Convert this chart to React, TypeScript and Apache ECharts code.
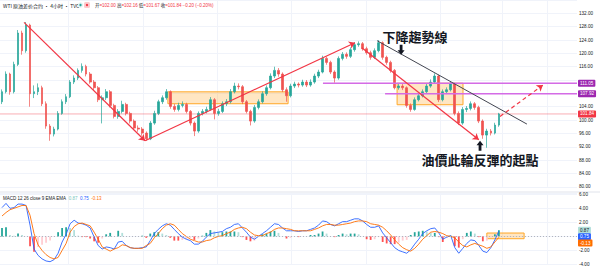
import React, { useEffect, useRef } from "react";
import * as echarts from "echarts";

// ---------- data ----------
const SLOT_COUNT = 144; // candle slots incl. empty right margin

// [open, close, low, high]
const candles: number[][] = [
  [105.5, 108.5, 104.8, 109.2], [108.5, 113.8, 108.0, 114.6], [113.8, 108.5, 107.6, 114.2], [108.5, 116.7, 108.0, 117.5],
  [116.7, 126.1, 116.2, 127.0], [126.1, 120.8, 119.6, 126.8], [120.8, 128.5, 120.2, 129.4], [128.5, 107.9, 104.0, 128.9],
  [107.9, 108.5, 106.6, 110.4], [108.5, 109.7, 107.5, 111.0], [109.7, 104.9, 104.2, 110.3], [104.9, 98.2, 97.4, 105.6],
  [98.2, 95.8, 93.8, 98.8], [95.8, 97.3, 95.1, 98.0], [97.3, 102.0, 96.9, 102.7], [102.0, 105.5, 101.6, 106.2],
  [105.5, 107.0, 104.8, 107.8], [107.0, 111.4, 106.6, 112.0], [111.4, 112.6, 110.8, 113.4], [112.6, 114.9, 112.0, 115.5],
  [114.9, 116.1, 114.2, 117.0], [116.1, 113.8, 113.1, 116.6], [113.8, 111.4, 110.9, 114.4], [111.4, 109.7, 109.0, 112.0],
  [109.7, 106.1, 105.4, 110.2], [106.1, 106.7, 99.0, 107.4], [106.7, 108.5, 106.0, 109.3], [108.5, 104.4, 103.8, 109.0],
  [104.4, 101.1, 100.5, 104.9], [101.1, 102.6, 100.4, 103.3], [102.6, 104.7, 102.0, 105.8], [104.7, 102.0, 101.4, 105.2],
  [102.0, 99.7, 99.0, 102.5], [99.7, 97.6, 97.0, 100.2], [97.6, 97.3, 96.5, 98.4], [97.3, 96.1, 95.3, 97.9],
  [96.1, 94.4, 93.8, 96.6], [94.4, 99.1, 94.0, 99.7], [99.1, 102.0, 98.6, 102.8], [102.0, 105.5, 101.5, 106.1],
  [105.5, 106.7, 104.8, 107.4], [106.7, 108.5, 106.1, 109.3], [108.5, 104.1, 103.4, 108.9], [104.1, 103.2, 102.5, 104.8],
  [103.2, 104.4, 102.6, 105.2], [104.4, 104.7, 103.8, 105.6], [104.7, 102.6, 102.0, 105.2], [102.6, 99.1, 98.4, 103.0],
  [99.1, 96.7, 95.2, 99.6], [96.7, 102.0, 96.2, 102.6], [102.0, 102.6, 101.4, 103.3], [102.6, 103.2, 102.0, 104.0],
  [103.2, 106.1, 102.8, 106.9], [106.1, 102.0, 100.2, 106.6], [102.0, 102.6, 101.3, 103.4], [102.6, 104.9, 102.1, 105.6],
  [104.9, 105.5, 104.2, 106.3], [105.5, 108.5, 105.0, 109.3], [108.5, 110.2, 108.0, 111.2], [110.2, 110.0, 109.2, 111.0],
  [110.0, 105.5, 104.8, 110.5], [105.5, 102.6, 102.0, 106.0], [102.6, 99.7, 98.4, 103.1], [99.7, 103.8, 99.2, 104.5],
  [103.8, 105.5, 103.2, 106.2], [105.5, 107.9, 105.0, 108.6], [107.9, 109.7, 107.3, 110.4], [109.7, 113.2, 109.2, 114.0],
  [113.2, 114.9, 112.6, 116.0], [114.9, 113.8, 113.0, 115.6], [113.8, 109.1, 108.4, 114.3], [109.1, 107.3, 105.5, 109.8],
  [107.3, 110.2, 106.8, 110.9], [110.2, 110.8, 109.6, 111.5], [110.8, 110.5, 109.8, 111.3], [110.5, 111.4, 110.0, 112.1],
  [111.4, 110.5, 109.9, 112.0], [110.5, 111.4, 110.0, 112.2], [111.4, 113.2, 110.9, 113.9], [113.2, 114.4, 112.6, 115.1],
  [114.4, 118.5, 114.0, 119.3], [118.5, 117.3, 116.6, 119.0], [117.3, 114.4, 113.8, 117.8], [114.4, 112.6, 111.2, 114.9],
  [112.6, 118.5, 112.1, 119.1], [118.5, 119.7, 117.9, 120.4], [119.7, 119.1, 118.4, 120.3], [119.1, 121.1, 118.6, 121.8],
  [121.1, 122.6, 120.5, 123.3], [122.6, 122.9, 122.0, 123.6], [122.9, 121.4, 120.8, 123.4], [121.4, 120.2, 119.6, 122.0],
  [120.2, 118.8, 118.1, 120.8], [118.8, 120.8, 118.3, 121.5], [120.8, 123.2, 120.3, 124.0], [123.2, 118.8, 118.1, 123.6],
  [118.8, 117.3, 116.6, 119.3], [117.3, 114.9, 114.2, 117.8], [114.9, 109.7, 109.2, 115.3], [109.7, 110.2, 109.1, 110.9],
  [110.2, 109.7, 109.0, 110.8], [109.7, 104.4, 103.7, 110.1], [104.4, 103.2, 102.5, 105.0], [103.2, 106.1, 102.8, 106.8],
  [106.1, 107.3, 105.6, 108.0], [107.3, 108.5, 106.8, 109.2], [108.5, 110.2, 108.0, 111.0], [110.2, 111.4, 109.7, 112.2],
  [111.4, 113.2, 110.9, 114.0], [113.2, 106.1, 105.4, 113.6], [106.1, 108.5, 105.6, 109.2], [108.5, 109.1, 107.8, 109.8],
  [109.1, 110.8, 108.6, 111.6], [110.8, 102.0, 101.4, 111.2], [102.0, 99.1, 98.5, 102.6], [99.1, 103.2, 98.6, 103.9],
  [103.2, 103.5, 102.4, 104.2], [103.5, 104.9, 102.9, 105.6], [104.9, 103.8, 103.1, 105.4], [103.8, 99.7, 99.1, 104.3],
  [99.7, 95.5, 94.4, 100.2], [95.5, 96.7, 91.7, 97.4], [96.7, 96.1, 95.4, 97.3], [96.1, 98.5, 95.7, 99.2],
  [98.5, 101.84, 98.0, 102.16],
];

const macdValues: number[] = [
  4.1, 4.7, 4.0, 4.1, 4.6, 4.6, 4.4, 1.6, -1.8, -2.7, -3.2, -3.5, -3.6, -3.3, -2.4, -0.8,
  0.3, 1.8, 2.3, 1.9, 1.8, 1.6, 1.2, -0.1, -1.3, -1.8, -1.5, -1.6, -1.8, -0.8, -0.7, -1.3,
  -1.6, -1.7, -1.7, -1.6, -1.5, -0.6, 0.4, 1.0, 1.5, 1.8, 1.6, 1.0, 0.4, -0.1, -0.4, -0.6,
  -1.1, -1.1, -0.7, -0.1, 0.4, 0.5, 0.6, 0.7, 1.1, 1.3, 1.7, 1.8, 1.2, 0.6, -0.1, -0.4,
  0.0, 0.4, 0.8, 1.3, 1.8, 1.7, 1.2, 0.8, 0.8, 0.8, 0.7, 0.8, 0.8, 1.0, 1.2, 1.6,
  2.2, 2.1, 1.7, 1.5, 1.8, 2.1, 2.1, 2.3, 2.5, 2.5, 2.2, 1.7, 1.3, 1.3, 1.5, 0.5,
  -0.2, -0.9, -1.6, -2.0, -2.2, -2.4, -1.9, -1.1, -0.4, 0.4, 0.8, 1.1, 1.2, 0.5, -0.4, -0.1,
  0.1, -1.6, -2.4, -1.7, -1.0, -0.5, -0.6, -1.3, -2.1, -2.3, -1.6, -0.5, 0.75,
];

const signalValues: number[] = [
  2.9, 3.4, 3.8, 4.0, 4.2, 4.4, 4.4, 3.0, 0.4, -1.2, -2.0, -2.6, -3.0, -3.2, -3.0, -2.0,
  -1.0, 0.6, 1.4, 1.8, 1.9, 1.7, 1.5, 0.6, -0.4, -1.5, -1.8, -2.1, -1.8, -1.6, -1.2, -1.3,
  -1.6, -1.7, -1.7, -1.7, -1.3, -1.0, -0.2, 0.4, 1.1, 1.6, 1.8, 1.6, 1.0, 0.4, 0.0, -0.4,
  -0.6, -0.8, -0.8, -0.6, -0.5, -0.2, 0.0, 0.1, 0.4, 0.6, 1.0, 1.2, 1.3, 1.1, 0.6, 0.2,
  0.1, 0.1, 0.4, 0.6, 1.0, 1.2, 1.2, 1.1, 1.0, 0.8, 0.8, 0.8, 0.8, 0.8, 1.0, 1.2,
  1.5, 1.7, 1.7, 1.6, 1.6, 1.7, 1.8, 1.9, 2.1, 2.2, 2.2, 2.1, 1.8, 1.7, 1.6, 1.3,
  0.8, 0.2, -0.5, -1.1, -1.6, -1.9, -2.1, -1.7, -1.1, -0.4, 0.1, 0.6, 0.7, 0.6, 0.4, 0.1,
  0.0, -0.2, -0.8, -1.3, -1.5, -1.2, -1.0, -1.2, -1.4, -1.7, -1.5, -0.8, -0.13,
];

const priceAxis = { min: 80, max: 136, step: 4 };
const macdAxis = { min: -4, max: 6.2, step: 2 };

const headerTitle = "WTI 原油差价合约 · 4小时 · TVC";
const ohlcKeys = ["开", "高", "低", "收"];
const ohlcValues = ["102.00", "102.16", "101.67", "101.84"];
const changeText = "−0.20 (−0.20%)";
const macdTitle = "MACD 12 26 close 9 EMA EMA";
const macdLegend = [
  { key: "hist", value: 0.87 },
  { key: "macd", value: 0.75 },
  { key: "signal", value: -0.13 },
];
const lastPrice = 101.84;

// horizontal levels: start slot, price
const levels = [
  { from: 80.1, price: 111.05 },
  { from: 95.6, price: 107.92 },
];

// trend lines in slot / price units
const trendLines = [
  { kind: "red", from: [5.5, 129.3], to: [35.7, 93.8], arrow: true },
  { kind: "red", from: [35.7, 93.8], to: [88.1, 123.2], arrow: true },
  { kind: "red", from: [89.8, 121.7], to: [119.0, 94.1], arrow: true },
  { kind: "dark", from: [93.6, 123.8], to: [131.0, 98.8], arrow: false },
  { kind: "redDash", from: [124.3, 101.1], to: [135.0, 110.5], arrow: true },
];

const zones = [
  { x0: 41.4, x1: 71.4, top: 108.47, bottom: 104.9 },
  { x0: 98.6, x1: 115.05, top: 111.05, bottom: 104.6 },
];
const macdZone = { x0: 121.0, x1: 130.3, top: 0.48, bottom: -0.33 };

const notes = [
  { text: "下降趨勢線", x: 103.1, price: 125.1 },
  { text: "油價此輪反彈的起點", x: 119.3, price: 88.2 },
];
const pointers = [
  { x: 99.6, price: 121.1, dir: "down" },
  { x: 119.3, price: 92.3, dir: "up" },
];

const timeGrid = [16.5, 35.2, 53.7, 72.1, 90.8, 109.3, 124.8, 136.0];

// ---------- styles ----------
const UP = "#26a69a";
const DOWN = "#ef5350";
const RED = "#f23645";
const PURPLE_LINE = "#d46be6";
const PURPLE_TAG = "#9c27b0";
const TEXT = "#131722";
const GRID = "#f0f3fa";
const NUM_FONT = "'Liberation Sans', Arial, sans-serif";
const CJK_SC = "'Noto Sans CJK SC', 'Liberation Sans', sans-serif";
const CJK_TC = "'Noto Sans CJK TC', sans-serif";
const ARROW_PATH = "path://M3,0L7,0L7,6L10,6L5,11L0,6L3,6Z";

const lineStyles: Record<string, any> = {
  red: { color: RED, width: 1.2, type: "solid" },
  redDash: { color: RED, width: 1.2, type: [4, 3] },
  dark: { color: "#434651", width: 1, type: "solid" },
};

const tagLabel = (bg: string, fg = "#ffffff") => ({
  show: true,
  distance: 1,
  fontSize: 4.6,
  fontFamily: NUM_FONT,
  color: fg,
  backgroundColor: bg,
  padding: [1, 2, 1, 2],
  borderRadius: 1,
});

const tagPrices = [lastPrice, ...levels.map((l) => l.price)];

export default function App() {
  const ref = useRef<HTMLDivElement>(null);

  useEffect(() => {
    document.body.style.margin = "0";
    if (!ref.current) return;
    const chart = echarts.init(ref.current, undefined, { renderer: "svg" });

    const hist = macdValues.map((m, i) => +(m - signalValues[i]).toFixed(2));
    const histData = hist.map((h, i) => {
      const prev = i > 0 ? hist[i - 1] : h;
      const color = h >= 0 ? (h >= prev ? UP : "#b2dfdb") : h <= prev ? "#ff5252" : "#ffcdd2";
      return { value: [i, h], itemStyle: { color } };
    });

    const xMax = SLOT_COUNT - 0.5;

    const gridLineSeries = (g: number) => ({
      type: "line",
      xAxisIndex: g,
      yAxisIndex: g,
      data: [],
      silent: true,
      markLine: {
        silent: true,
        z: 0,
        symbol: ["none", "none"],
        label: { show: false },
        lineStyle: { color: GRID, width: 1, type: "solid" },
        emphasis: { disabled: true },
        data: timeGrid.map((x) => ({ xAxis: x })),
      },
    });

    // a horizontal price line drawn as a 2-point line series with a tag at its end
    const levelSeries = (from: number, price: number, color: string, width: number, tagBg: string, z: number) => ({
      type: "line",
      xAxisIndex: 0,
      yAxisIndex: 0,
      data: [
        [from, price],
        [xMax, price],
      ],
      z,
      color,
      silent: true,
      showSymbol: false,
      symbol: "none",
      clip: false,
      lineStyle: { color, width, type: "solid", opacity: 1 },
      endLabel: { ...tagLabel(tagBg), formatter: () => price.toFixed(2) },
      emphasis: { disabled: true },
    });

    const option: any = {
      animation: false,
      grid: [
        { left: 0, right: 23, top: -3.6, height: 190.4 },
        { left: 0, right: 23, top: 192.85, height: 84.15 },
      ],
      xAxis: [0, 1].map((g) => ({
        type: "value",
        gridIndex: g,
        min: -0.5,
        max: xMax,
        show: false,
      })),
      yAxis: [
        {
          type: "value",
          gridIndex: 0,
          position: "right",
          min: priceAxis.min,
          max: priceAxis.max,
          interval: priceAxis.step,
          axisLine: { show: false },
          axisTick: { show: false },
          axisLabel: {
            fontSize: 4.6,
            fontFamily: NUM_FONT,
            color: TEXT,
            margin: 2,
            formatter: (v: number) =>
              v >= 134 || tagPrices.some((p) => Math.abs(p - v) < 1.5) ? "" : v.toFixed(2),
          },
          splitLine: { lineStyle: { color: GRID, width: 1 } },
        },
        {
          type: "value",
          gridIndex: 1,
          position: "right",
          min: macdAxis.min,
          max: macdAxis.max,
          interval: macdAxis.step,
          axisLine: { show: false },
          axisTick: { show: false },
          axisLabel: {
            fontSize: 4.6,
            fontFamily: NUM_FONT,
            color: TEXT,
            margin: 2,
            formatter: (v: number) =>
              Math.abs(v % 2) > 1e-6 || v === 0 ? "" : v.toFixed(2),
          },
          splitLine: { lineStyle: { color: GRID, width: 1 } },
        },
      ],
      series: [
        gridLineSeries(0),
        gridLineSeries(1),
        levelSeries(-0.5, lastPrice, "rgba(242,54,69,0.4)", 1, RED, 1),
        ...levels.map((l, i) => levelSeries(l.from, l.price, PURPLE_LINE, 1.5, PURPLE_TAG, 3 + i)),
        {
          type: "candlestick",
          xAxisIndex: 0,
          yAxisIndex: 0,
          clip: false,
          barWidth: 2.2,
          z: 2,
          data: candles.map((c, i) => [i, ...c]),
          encode: { x: 0, y: [1, 2, 3, 4] },
          itemStyle: {
            color: UP,
            color0: DOWN,
            borderColor: UP,
            borderColor0: DOWN,
            borderWidth: 0.7,
          },
          markArea: {
            silent: true,
            itemStyle: {
              color: "rgba(255,167,38,0.28)",
              borderColor: "#ffa726",
              borderWidth: 1,
            },
            data: zones.map((z) => [
              { coord: [z.x0, z.top] },
              { coord: [z.x1, z.bottom] },
            ]),
          },
          markLine: {
            silent: true,
            symbol: ["none", "none"],
            symbolSize: 6,
            label: { show: false },
            emphasis: { disabled: true },
            data: trendLines.map((t) => [
              { coord: t.from, lineStyle: lineStyles[t.kind] },
              {
                coord: t.to,
                symbol: t.arrow ? "arrow" : "none",
                symbolSize: 6,
              },
            ]),
          },
          markPoint: {
            silent: true,
            data: [
              ...notes.map((n) => ({
                coord: [n.x, n.price],
                symbol: "circle",
                symbolSize: 1,
                itemStyle: { color: "rgba(0,0,0,0)" },
                label: {
                  show: true,
                  position: "inside",
                  formatter: n.text,
                  fontSize: 13,
                  fontWeight: "bold",
                  color: TEXT,
                  fontFamily: CJK_TC,
                },
              })),
              ...pointers.map((p) => ({
                coord: [p.x, p.price],
                symbol: ARROW_PATH,
                symbolSize: [7, 10],
                symbolRotate: p.dir === "up" ? 180 : 0,
                itemStyle: { color: TEXT },
                label: { show: false },
              })),
            ],
          },
        },
        {
          type: "bar",
          xAxisIndex: 1,
          yAxisIndex: 1,
          barWidth: 1.8,
          data: histData,
          silent: true,
          markArea: {
            silent: true,
            itemStyle: {
              color: "rgba(255,167,38,0.28)",
              borderColor: "#ffa726",
              borderWidth: 1,
            },
            data: [
              [
                { coord: [macdZone.x0, macdZone.top] },
                { coord: [macdZone.x1, macdZone.bottom] },
              ],
            ],
          },
          markLine: {
            silent: true,
            symbol: ["none", "none"],
            label: { show: false },
            lineStyle: { color: "#b2b5be", width: 1, type: [1, 2] },
            emphasis: { disabled: true },
            data: [{ yAxis: 0 }],
          },
        },
        {
          type: "line",
          xAxisIndex: 1,
          yAxisIndex: 1,
          data: macdValues.map((v, i) => [i, v]),
          showSymbol: false,
          silent: true,
          lineStyle: { color: "#2962ff", width: 0.9 },
        },
        {
          type: "line",
          xAxisIndex: 1,
          yAxisIndex: 1,
          data: signalValues.map((v, i) => [i, v]),
          showSymbol: false,
          silent: true,
          lineStyle: { color: "#ff6d00", width: 0.9 },
        },
      ],
    };

    chart.setOption(option);

    // right-hand MACD value tags, stacked to avoid overlap
    const tagColors: Record<string, [string, string]> = {
      hist: ["#b2dfdb", TEXT],
      macd: ["#2962ff", "#ffffff"],
      signal: ["#ff6d00", "#ffffff"],
    };
    let prevY = -Infinity;
    const macdTags = macdLegend.map((m) => {
      let y = chart.convertToPixel({ yAxisIndex: 1 } as any, m.value) as number;
      y = Math.max(y, prevY + 6.4);
      prevY = y;
      const [bg, fg] = tagColors[m.key];
      return {
        type: "text",
        x: 578,
        y,
        z: 100,
        style: {
          text: m.value.toFixed(2),
          fill: fg,
          backgroundColor: bg,
          padding: [1, 2, 1, 2],
          borderRadius: 1,
          fontSize: 4.6,
          fontFamily: NUM_FONT,
          verticalAlign: "middle",
          align: "left",
        },
      };
    });

    const ohlcText = ohlcKeys
      .map((k, i) => `{k|${k}}{v|=${ohlcValues[i]}}`)
      .join(" ");

    chart.setOption({
      graphic: [
        {
          type: "line",
          shape: { x1: 0, y1: 192, x2: 600, y2: 192 },
          style: { stroke: "#e0e3eb", lineWidth: 1 },
          silent: true,
        },
        {
          type: "text",
          x: 3,
          y: 5,
          style: {
            text: headerTitle,
            fill: TEXT,
            fontSize: 5,
            fontFamily: CJK_SC,
            verticalAlign: "middle",
          },
        },
        {
          type: "circle",
          shape: { cx: 80.5, cy: 5, r: 2.6 },
          style: { fill: "#e0f2f1" },
        },
        {
          type: "circle",
          shape: { cx: 80.5, cy: 5, r: 1.2 },
          style: { fill: UP },
        },
        {
          type: "rect",
          shape: { x: 84, y: 2, width: 6, height: 6, r: 1.5 },
          style: { fill: "#fccbcd" },
        },
        {
          type: "circle",
          shape: { cx: 87, cy: 5, r: 1.2 },
          style: { fill: RED },
        },
        {
          type: "text",
          x: 95,
          y: 5,
          style: {
            text: `${ohlcText} {v|${changeText}}`,
            fontSize: 4.5,
            fontFamily: CJK_SC,
            verticalAlign: "middle",
            rich: {
              k: { fill: TEXT, fontSize: 4.5, fontFamily: CJK_SC },
              v: { fill: RED, fontSize: 4.5, fontFamily: NUM_FONT },
            },
          },
        },
        {
          type: "text",
          x: 3,
          y: 198,
          style: {
            text: `{t|${macdTitle}}  {a|${macdLegend[0].value.toFixed(2)}}  {b|${macdLegend[1].value.toFixed(2)}}  {c|${macdLegend[2].value.toFixed(2)}}`,
            fontSize: 4.5,
            fontFamily: NUM_FONT,
            verticalAlign: "middle",
            rich: {
              t: { fill: TEXT, fontSize: 4.5, fontFamily: NUM_FONT },
              a: { fill: "#7cc7bd", fontSize: 4.5, fontFamily: NUM_FONT },
              b: { fill: "#2962ff", fontSize: 4.5, fontFamily: NUM_FONT },
              c: { fill: "#ff6d00", fontSize: 4.5, fontFamily: NUM_FONT },
            },
          },
        },
        ...macdTags,
      ],
    });

    return () => chart.dispose();
  }, []);

  return <div ref={ref} style={{ width: 600, height: 267 }} />;
}
